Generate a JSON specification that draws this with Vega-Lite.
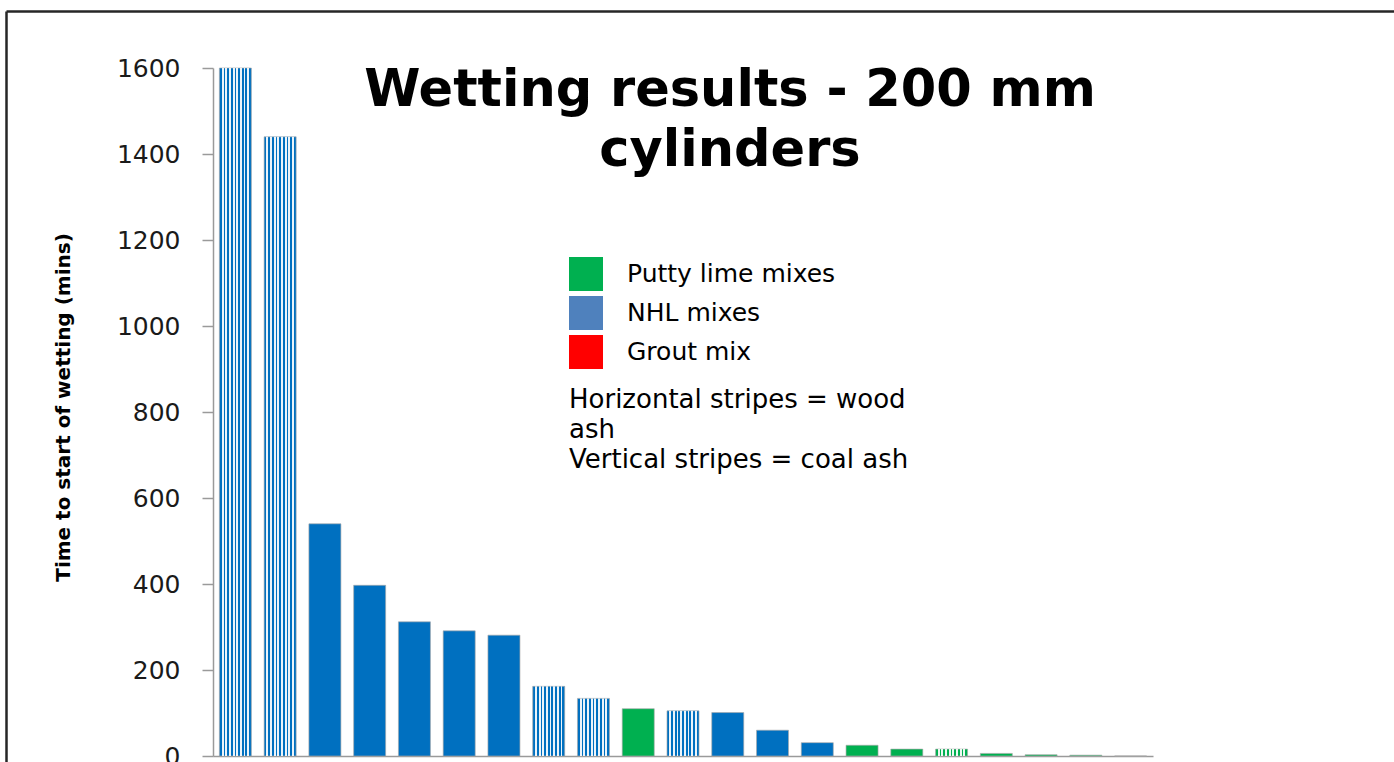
{
  "$schema": "https://vega.github.io/schema/vega-lite/v6.json",
  "width": 940,
  "height": 688,
  "autosize": {"type": "none"},
  "padding": {"left": 213, "top": 68, "right": 241, "bottom": 6},
  "background": "white",
  "config": {"view": {"stroke": null}},
  "title": {
    "text": ["Wetting results - 200 mm", "cylinders"],
    "font": "DejaVu Sans",
    "fontSize": 51,
    "fontWeight": "bold",
    "color": "#000000",
    "anchor": "middle",
    "baseline": "top",
    "lineHeight": 60,
    "offset": 0,
    "dx": 47,
    "dy": 166
  },
  "layer": [
    {
      "data": {"values": [{"f": 0}]},
      "mark": {"type": "point", "opacity": 0},
      "encoding": {
        "x": {
          "field": "f", "type": "quantitative",
          "scale": {"domain": [0, 1], "range": [-207, 1181], "nice": false, "zero": false},
          "axis": {"orient": "top", "offset": 57, "domainColor": "#262626", "domainWidth": 2.5, "ticks": false, "labels": false, "grid": false, "title": null}
        },
        "y": {
          "field": "f", "type": "quantitative",
          "scale": {"domain": [0, 1], "range": [694, -57], "nice": false, "zero": false},
          "axis": {"orient": "left", "offset": 207, "domainColor": "#262626", "domainWidth": 2.5, "ticks": false, "labels": false, "grid": false, "title": null}
        }
      }
    },
    {
      "layer": [
        {
          "data": {"name": "bars"},
          "mark": {"type": "bar", "stroke": "#a8a8a8", "strokeWidth": 0.8, "strokeOpacity": 0.8},
          "encoding": {
            "x": {
              "field": "id", "type": "ordinal", "sort": null,
              "scale": {"paddingInner": 0.285, "paddingOuter": 0.1425},
              "axis": {"orient": "bottom", "labels": false, "ticks": false, "grid": false, "title": null, "domainColor": "#9a9a9a", "domainWidth": 1.5}
            },
            "y": {
              "field": "value", "type": "quantitative",
              "scale": {"domain": [0, 1600], "nice": false},
              "axis": {
                "orient": "left", "values": [0, 200, 400, 600, 800, 1000, 1200, 1400, 1600],
                "format": "d",
                "grid": false, "domainColor": "#9a9a9a", "domainWidth": 1.5,
                "tickColor": "#9a9a9a", "tickSize": 11, "tickWidth": 1.5,
                "labelFont": "DejaVu Sans", "labelFontSize": 25, "labelColor": "#1a1a1a", "labelPadding": 22,
                "title": "Time to start of wetting (mins)",
                "titleFont": "DejaVu Sans",
                "titleFontSize": 20, "titleFontWeight": "bold", "titleColor": "#000000",
                "titleAngle": 270, "titleAlign": "center", "titleBaseline": "middle",
                "titleX": -150, "titleY": 339
              }
            },
            "color": {
              "field": "group", "type": "nominal",
              "scale": {"domain": ["NHL", "Putty"], "range": ["#0070C0", "#00B050"]},
              "legend": null
            }
          }
        },
        {
          "data": {"name": "bars"},
          "transform": [{"filter": "datum.ash == 'coal'"}],
          "mark": {
            "type": "bar",
            "fill": {
              "gradient": "linear", "x1": 0, "y1": 0, "x2": 1, "y2": 0,
              "stops": [
                {"offset": 0, "color": "rgba(255,255,255,0)"},
                {"offset": 0.07, "color": "rgba(255,255,255,0)"},
                {"offset": 0.07, "color": "rgba(255,255,255,0.92)"},
                {"offset": 0.13, "color": "rgba(255,255,255,0.92)"},
                {"offset": 0.13, "color": "rgba(255,255,255,0)"},
                {"offset": 0.184, "color": "rgba(255,255,255,0)"},
                {"offset": 0.184, "color": "rgba(255,255,255,0.92)"},
                {"offset": 0.244, "color": "rgba(255,255,255,0.92)"},
                {"offset": 0.244, "color": "rgba(255,255,255,0)"},
                {"offset": 0.299, "color": "rgba(255,255,255,0)"},
                {"offset": 0.299, "color": "rgba(255,255,255,0.92)"},
                {"offset": 0.359, "color": "rgba(255,255,255,0.92)"},
                {"offset": 0.359, "color": "rgba(255,255,255,0)"},
                {"offset": 0.413, "color": "rgba(255,255,255,0)"},
                {"offset": 0.413, "color": "rgba(255,255,255,0.92)"},
                {"offset": 0.473, "color": "rgba(255,255,255,0.92)"},
                {"offset": 0.473, "color": "rgba(255,255,255,0)"},
                {"offset": 0.527, "color": "rgba(255,255,255,0)"},
                {"offset": 0.527, "color": "rgba(255,255,255,0.92)"},
                {"offset": 0.587, "color": "rgba(255,255,255,0.92)"},
                {"offset": 0.587, "color": "rgba(255,255,255,0)"},
                {"offset": 0.641, "color": "rgba(255,255,255,0)"},
                {"offset": 0.641, "color": "rgba(255,255,255,0.92)"},
                {"offset": 0.701, "color": "rgba(255,255,255,0.92)"},
                {"offset": 0.701, "color": "rgba(255,255,255,0)"},
                {"offset": 0.756, "color": "rgba(255,255,255,0)"},
                {"offset": 0.756, "color": "rgba(255,255,255,0.92)"},
                {"offset": 0.816, "color": "rgba(255,255,255,0.92)"},
                {"offset": 0.816, "color": "rgba(255,255,255,0)"},
                {"offset": 0.87, "color": "rgba(255,255,255,0)"},
                {"offset": 0.87, "color": "rgba(255,255,255,0.92)"},
                {"offset": 0.93, "color": "rgba(255,255,255,0.92)"},
                {"offset": 0.93, "color": "rgba(255,255,255,0)"},
                {"offset": 1, "color": "rgba(255,255,255,0)"}
              ]
            }
          },
          "encoding": {
            "x": {"field": "id", "type": "ordinal", "sort": null},
            "y": {"field": "value", "type": "quantitative"}
          }
        },
        {
          "data": {"values": [{"label": "Putty lime mixes"}, {"label": "NHL mixes"}, {"label": "Grout mix"}]},
          "mark": {"type": "point", "shape": "square", "filled": true, "opacity": 0},
          "encoding": {
            "fill": {
              "field": "label", "type": "nominal",
              "scale": {"domain": ["Putty lime mixes", "NHL mixes", "Grout mix"], "range": ["#00B050", "#4F81BD", "#FF0000"]},
              "legend": {
                "orient": "none", "legendX": 356, "legendY": 189, "direction": "vertical",
                "padding": 0,
                "title": ["Horizontal stripes = wood", "ash", "Vertical stripes = coal ash"],
                "titleOrient": "bottom", "titleAnchor": "start", "titleAlign": "left",
                "titleFont": "DejaVu Sans", "titleFontSize": 26, "titleFontWeight": "normal",
                "titleColor": "#000000", "titleLineHeight": 30, "titlePadding": 18, "titleLimit": 600,
                "symbolType": "square", "symbolSize": 1156, "symbolStrokeWidth": 0, "symbolOpacity": 1,
                "labelFont": "DejaVu Sans", "labelFontSize": 25, "labelColor": "#000000",
                "labelOffset": 24, "labelLimit": 500, "rowPadding": 5
              }
            }
          }
        }
      ]
    }
  ],
  "resolve": {
    "scale": {"x": "independent", "y": "independent"},
    "axis": {"x": "independent", "y": "independent"}
  },
  "datasets": {
    "bars": [
      {"id": "1", "value": 1600, "group": "NHL", "ash": "coal"},
      {"id": "2", "value": 1440, "group": "NHL", "ash": "coal"},
      {"id": "3", "value": 540, "group": "NHL", "ash": "none"},
      {"id": "4", "value": 397, "group": "NHL", "ash": "none"},
      {"id": "5", "value": 312, "group": "NHL", "ash": "none"},
      {"id": "6", "value": 291, "group": "NHL", "ash": "none"},
      {"id": "7", "value": 281, "group": "NHL", "ash": "none"},
      {"id": "8", "value": 162, "group": "NHL", "ash": "coal"},
      {"id": "9", "value": 134, "group": "NHL", "ash": "coal"},
      {"id": "10", "value": 110, "group": "Putty", "ash": "none"},
      {"id": "11", "value": 105, "group": "NHL", "ash": "coal"},
      {"id": "12", "value": 101, "group": "NHL", "ash": "none"},
      {"id": "13", "value": 60, "group": "NHL", "ash": "none"},
      {"id": "14", "value": 31, "group": "NHL", "ash": "none"},
      {"id": "15", "value": 25, "group": "Putty", "ash": "none"},
      {"id": "16", "value": 16, "group": "Putty", "ash": "none"},
      {"id": "17", "value": 16, "group": "Putty", "ash": "coal"},
      {"id": "18", "value": 6, "group": "Putty", "ash": "none"},
      {"id": "19", "value": 3, "group": "Putty", "ash": "none"},
      {"id": "20", "value": 2, "group": "Putty", "ash": "none"},
      {"id": "21", "value": 0, "group": "Putty", "ash": "none"}
    ]
  }
}
